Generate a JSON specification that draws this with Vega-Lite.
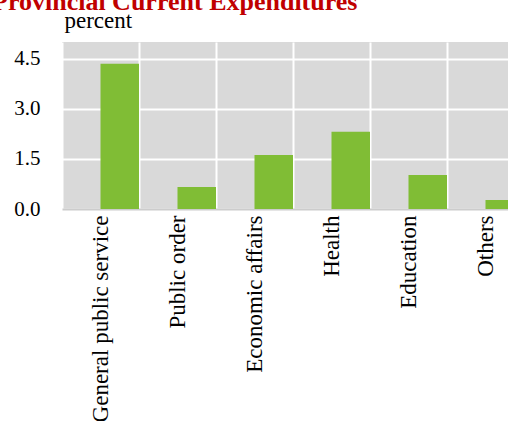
{
  "$schema": "https://vega.github.io/schema/vega-lite/v6.json",
  "autosize": "none",
  "width": 446,
  "height": 167,
  "padding": {"left": 62, "top": 42, "right": 0, "bottom": 212},
  "background": "white",
  "title": {
    "text": "Provincial Current Expenditures",
    "anchor": "start",
    "frame": "group",
    "dx": -70,
    "dy": 27,
    "baseline": "alphabetic",
    "color": "#c00000",
    "font": "Liberation Serif",
    "fontSize": 26,
    "fontWeight": "bold",
    "offset": 0
  },
  "config": {
    "view": {"fill": "#d9d9d9", "stroke": null},
    "font": "Liberation Serif"
  },
  "data": {
    "values": [
      {"category": "General public service", "value": 4.35},
      {"category": "Public order", "value": 0.66},
      {"category": "Economic affairs", "value": 1.62},
      {"category": "Health", "value": 2.31},
      {"category": "Education", "value": 1.02},
      {"category": "Others", "value": 0.27}
    ]
  },
  "mark": {"type": "bar", "color": "#80bd35", "width": {"band": 0.5}, "xOffset": 19.25},
  "encoding": {
    "x": {
      "field": "category",
      "type": "nominal",
      "sort": null,
      "scale": {"range": [0, 462], "paddingInner": 0, "paddingOuter": 0},
      "axis": {
        "title": null,
        "tickBand": "extent",
        "grid": true,
        "gridColor": "white",
        "gridWidth": 2,
        "gridOpacity": 1,
        "ticks": false,
        "domain": true,
        "domainColor": "#cccccc",
        "domainWidth": 2,
        "labelAngle": -90,
        "labelAlign": "right",
        "labelBaseline": "middle",
        "labelPadding": 6,
        "labelLimit": 400,
        "labelFontSize": 23,
        "labelColor": "black",
        "labelFont": "Liberation Serif"
      }
    },
    "y": {
      "field": "value",
      "type": "quantitative",
      "scale": {"domain": [0, 5], "nice": false},
      "axis": {
        "title": "percent",
        "titleAngle": 0,
        "titleAlign": "left",
        "titleBaseline": "alphabetic",
        "titleX": 2,
        "titleY": -15,
        "titleFontSize": 23,
        "titleFontWeight": "normal",
        "titleColor": "black",
        "titleFont": "Liberation Serif",
        "values": [0, 1.5, 3, 4.5],
        "format": ".1f",
        "grid": true,
        "gridColor": "white",
        "gridWidth": 2,
        "ticks": false,
        "domain": false,
        "labelPadding": 22,
        "labelFontSize": 21,
        "labelColor": "black",
        "labelFont": "Liberation Serif"
      }
    }
  }
}
